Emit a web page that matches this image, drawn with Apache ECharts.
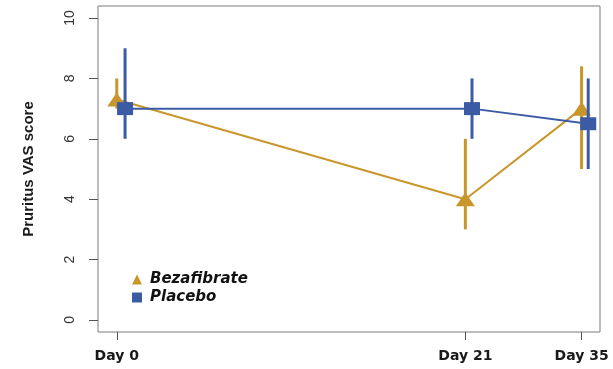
<!DOCTYPE html>
<html>
<head>
<meta charset="utf-8">
<script src="https://cdn.jsdelivr.net/npm/echarts@6/dist/echarts.min.js"></script>
<style>
html,body{margin:0;padding:0;background:#fff;}
#chart{width:613px;height:369px;}
</style>
</head>
<body>
<div id="chart"></div>
<script>
// ---- data ----
const dayLabels = ['Day 0', 'Day 21', 'Day 35'];
const dayPositions = [0, 21, 28];            // horizontal placement of the day ticks as drawn
const bezX = [0, 21, 28];
const bezMean = [7.3, 4, 7];
const bezLow = [7, 3, 5];
const bezHigh = [8, 6, 8.4];
const plaX = [0.5, 21.4, 28.4];
const plaMean = [7, 7, 6.5];
const plaLow = [6, 6, 5];
const plaHigh = [9, 8, 8];
const yTicks = [0, 2, 4, 6, 8, 10];

const GOLD = '#C9962C';
const BLUE = '#3B5BA5';

function pts(xs, ys) { return xs.map((x, i) => [x, ys[i]]); }
function bars(xs, lo, hi) { return xs.map((x, i) => [x, lo[i], hi[i]]); }

function errRender(color) {
  return function (params, api) {
    const x = api.value(0);
    const p1 = api.coord([x, api.value(1)]);
    const p2 = api.coord([x, api.value(2)]);
    return {
      type: 'line',
      shape: { x1: p1[0], y1: p1[1], x2: p2[0], y2: p2[1] },
      style: { stroke: color, lineWidth: 3 }
    };
  };
}

const chart = echarts.init(document.getElementById('chart'), null, { renderer: 'canvas' });
chart.setOption({
  animation: false,
  grid: { left: 98, right: 13, top: 6, bottom: 37, show: true, borderColor: '#7a7a7a', borderWidth: 1, backgroundColor: 'transparent' },
  xAxis: {
    type: 'value', min: -1.13, max: 29.11,
    splitLine: { show: false },
    axisLine: { show: false, onZero: false },
    axisTick: { show: true, length: 8, customValues: dayPositions, lineStyle: { color: '#555' } },
    axisLabel: {
      customValues: dayPositions,
      formatter: v => dayLabels[dayPositions.indexOf(v)],
      fontFamily: 'DejaVu Sans', fontWeight: 'bold', fontSize: 14, color: '#1a1a1a', margin: 17
    }
  },
  yAxis: {
    type: 'value', min: -0.4, max: 10.4,
    name: 'Pruritus VAS score', nameLocation: 'middle', nameGap: 62, nameRotate: 90,
    nameTextStyle: { fontFamily: 'Liberation Sans', fontWeight: 'bold', fontSize: 15, color: '#1a1a1a' },
    splitLine: { show: false },
    axisLine: { show: false, onZero: false },
    axisTick: { show: true, length: 9, customValues: yTicks, lineStyle: { color: '#555' } },
    axisLabel: {
      customValues: yTicks, rotate: 90,
      fontFamily: 'Liberation Sans', fontSize: 14, color: '#333', margin: 21
    }
  },
  legend: {
    orient: 'vertical', left: 127, top: 267, itemWidth: 10, itemHeight: 10, itemGap: 3,
    textStyle: { fontFamily: 'DejaVu Sans', fontWeight: 'bold', fontStyle: 'italic', fontSize: 15, color: '#111', padding: [0, 0, 0, 3] },
    data: [{ name: 'Bezafibrate', icon: 'triangle' }, { name: 'Placebo', icon: 'rect' }]
  },
  series: [
    { type: 'custom', name: 'Bezafibrate', renderItem: errRender(GOLD), data: bars(bezX, bezLow, bezHigh),
      encode: { x: 0, y: [1, 2] }, itemStyle: { color: GOLD }, z: 2 },
    { type: 'line', name: 'Bezafibrate', data: pts(bezX, bezMean), symbol: 'triangle', symbolSize: [19, 14],
      lineStyle: { color: GOLD, width: 2 }, itemStyle: { color: GOLD }, z: 3 },
    { type: 'custom', name: 'Placebo', renderItem: errRender(BLUE), data: bars(plaX, plaLow, plaHigh),
      encode: { x: 0, y: [1, 2] }, itemStyle: { color: BLUE }, z: 4 },
    { type: 'line', name: 'Placebo', data: pts(plaX, plaMean), symbol: 'rect', symbolSize: [16, 13],
      lineStyle: { color: BLUE, width: 2 }, itemStyle: { color: BLUE }, z: 5 }
  ]
});
</script>
</body>
</html>
